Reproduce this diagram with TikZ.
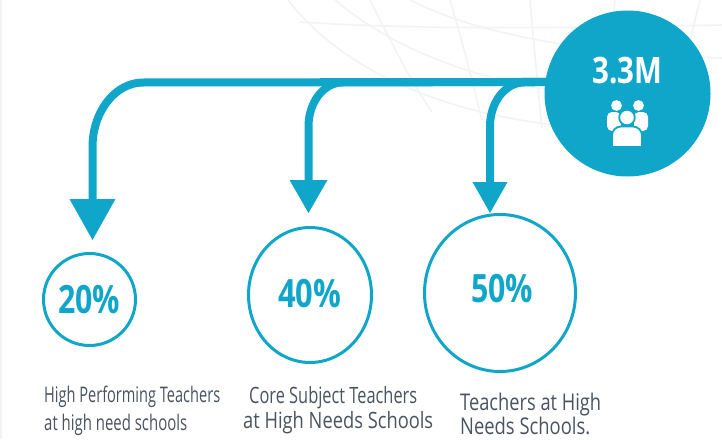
\documentclass[tikz,border=0pt]{standalone}
\usepackage{fontspec}
\setmainfont{Open Sans}
\usetikzlibrary{arrows.meta,shapes.geometric}
\definecolor{cblue}{RGB}{16,166,201}
\definecolor{ctext}{RGB}{74,84,97}
\definecolor{cglobe}{RGB}{243,243,243}
\begin{document}
\begin{tikzpicture}[x=1pt,y=-1pt,
  branch/.style={cblue,line width=8pt},
  ring/.style={draw=cblue,line width=3pt,ellipse,inner sep=0pt},
  pct/.style={anchor=base west,inner sep=0pt,text=cblue},
  lbl/.style={anchor=base west,inner sep=0pt,text=ctext},
  globe/.style={cglobe,line width=1.6pt}]
\useasboundingbox (0,0) rectangle (722,439);
\fill[white] (0,0) rectangle (722,439);
\draw[cglobe,line width=2pt] (1,0) -- (1,439);
% faint globe
\draw[globe] (288,0) .. controls (350,80) and (470,125) .. (620,130);
\draw[globe] (335,0) .. controls (400,55) and (500,92) .. (640,100);
\draw[globe] (410,0) .. controls (470,30) and (560,52) .. (722,58);
\draw[globe] (300,22) .. controls (420,30) and (560,28) .. (722,25);
\draw[globe] (370,0) .. controls (390,40) and (410,80) .. (432,112);
\draw[globe] (450,0) .. controls (462,40) and (472,80) .. (482,120);
\draw[globe] (530,0) .. controls (534,45) and (538,90) .. (542,128);
\draw[globe] (615,0) .. controls (612,40) and (610,80) .. (608,130);
\draw[globe] (700,0) .. controls (690,40) and (680,80) .. (670,128);
% hub
\node[circle,fill=cblue,minimum size=166pt,inner sep=0pt] (hub) at (627.5,93.5) {};
% target rings
\node[ring,minimum width=92pt,minimum height=92pt] (c1) at (89.5,299.5) {};
\node[ring,minimum width=123pt,minimum height=135pt] (c2) at (310,295) {};
\node[ring,minimum width=151pt,minimum height=157pt] (c3) at (500,293) {};
% arrow ends
\coordinate (e1) at (92.5,240);
\coordinate (e2) at (308.5,213);
\coordinate (e3) at (490,213);
% connectors
\draw[branch,-{Triangle[width=46pt,length=41pt,line width=0pt]}]
  ([xshift=4pt]hub.172) -- (143,82.5) .. controls (115.4,82.5) and (92.5,111.4) .. (92.5,147) -- (e1);
\draw[branch,-{Triangle[width=38pt,length=33pt,line width=0pt]}]
  ([xshift=4pt]hub.172) -- (342.5,82.5) .. controls (323.7,82.5) and (308.5,102.2) .. (308.5,126.5) -- (e2);
\draw[branch,-{Triangle[width=35pt,length=31pt,line width=0pt]}]
  ([xshift=4pt]hub.172) -- (524,82.5) .. controls (505.2,82.5) and (490,102.2) .. (490,126.5) -- (e3);
% hub text and icon
\node[anchor=base west,inner sep=0pt,text=white] (hubtxt) at (592,83)
  {\resizebox{70pt}{\height}{\fontsize{36.4}{36}\selectfont\bfseries 3.3M}};
\fill[white,rounded corners=5pt] (607,131) -- (607,112) -- (621,112) -- (621,131) -- cycle;
\fill[white,rounded corners=5pt] (634,131) -- (634,112) -- (648,112) -- (648,131) -- cycle;
\fill[white] (616.5,105.5) circle (5.4pt);
\fill[white] (638.5,105.5) circle (5.4pt);
\filldraw[fill=white,draw=cblue,line width=1.8pt] (612,147) [rounded corners=9pt] -- (612,126.5) -- (642,126.5) [sharp corners] -- (642,147) -- cycle;
\filldraw[fill=white,draw=cblue,line width=1.8pt] (627,117.5) circle (7.8pt);
% percentages
\node[pct] (p1) at (58,313) {\resizebox{62pt}{\height}{\fontsize{39}{39}\selectfont\bfseries 20\%}};
\node[pct] (p2) at (278,307) {\resizebox{63pt}{\height}{\fontsize{39}{39}\selectfont\bfseries 40\%}};
\node[pct] (p3) at (471,302) {\resizebox{62pt}{\height}{\fontsize{39}{39}\selectfont\bfseries 50\%}};
% labels
\node[lbl] (t1a) at (44,402) {\resizebox{176pt}{\height}{\fontsize{21.5}{21}\selectfont High Performing Teachers}};
\node[lbl] (t1b) at (44,430) {\resizebox{143pt}{\height}{\fontsize{21.5}{21}\selectfont at high need schools}};
\node[lbl] (t2a) at (249,403) {\resizebox{168pt}{\height}{\fontsize{22.5}{22}\selectfont Core Subject Teachers}};
\node[lbl] (t2b) at (243,428) {\resizebox{190pt}{\height}{\fontsize{22.5}{22}\selectfont at High Needs Schools}};
\node[lbl] (t3a) at (460,410) {\resizebox{141pt}{\height}{\fontsize{23}{23}\selectfont Teachers at High}};
\node[lbl] (t3b) at (460,434) {\resizebox{130pt}{\height}{\fontsize{23}{23}\selectfont Needs Schools.}};
\end{tikzpicture}
\end{document}
